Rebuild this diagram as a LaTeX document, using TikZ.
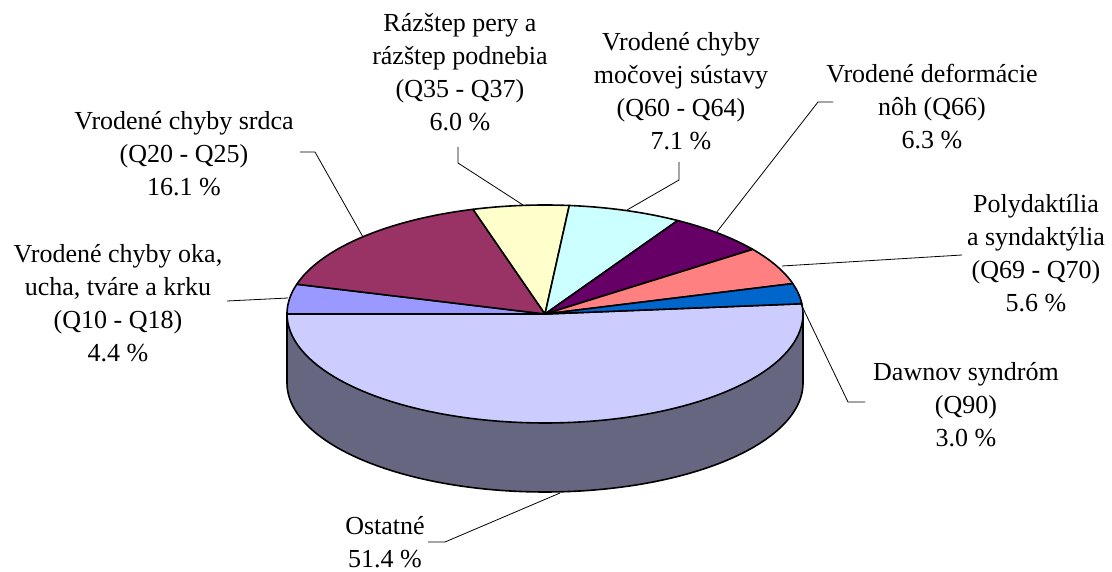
\documentclass[tikz,border=0pt]{standalone}
\usepackage{fontspec}
\setmainfont{Liberation Serif}
\definecolor{cOst}{HTML}{CCCCFF}
\definecolor{cSide}{HTML}{666680}
\definecolor{cOka}{HTML}{9999FF}
\definecolor{cSrdca}{HTML}{993366}
\definecolor{cRaz}{HTML}{FFFFCC}
\definecolor{cMoc}{HTML}{CCFFFF}
\definecolor{cDef}{HTML}{660066}
\definecolor{cPoly}{HTML}{FF8080}
\definecolor{cDaw}{HTML}{0066CC}
\def\cx{545}
\def\cy{314}
\def\rx{258}
\def\ry{109}
\def\dep{69}
\newcommand{\pieSlice}[3]{\filldraw[slice, fill=#1] (\cx,\cy) -- plot[domain=#2:#3, samples=80] ({\cx+\rx*cos(\x)},{\cy-\ry*sin(\x)}) -- cycle;}
\begin{document}
\begin{tikzpicture}[x=1pt,y=-1pt,
  lbl/.style={align=center, font=\fontsize{26}{33}\selectfont, inner sep=0pt},
  leader/.style={draw=black, line width=0.8pt},
  slice/.style={draw=black, line width=1.6pt, line join=round}]
\useasboundingbox (0,0) rectangle (1112,572);
% side wall
\filldraw[slice, fill=cSide] (\cx-\rx,\cy) -- plot[domain=180:360, samples=120] ({\cx+\rx*cos(\x)},{\cy+\dep-\ry*sin(\x)}) -- (\cx+\rx,\cy) -- cycle;
% top slices
\pieSlice{cOst}{5.4}{-180}
\pieSlice{cOka}{180}{164.16}
\pieSlice{cSrdca}{164.16}{106.2}
\pieSlice{cRaz}{106.2}{84.6}
\pieSlice{cMoc}{84.6}{59.04}
\pieSlice{cDef}{59.04}{36.36}
\pieSlice{cPoly}{36.36}{16.2}
\pieSlice{cDaw}{16.2}{5.4}
% labels
\node[lbl] (oka) at (118,303) {Vrodené chyby oka,\\ucha, tváre a krku\\(Q10 - Q18)\\4.4 \%};
\node[lbl] (srdca) at (184,154) {Vrodené chyby srdca\\(Q20 - Q25)\\16.1 \%};
\node[lbl] (raz) at (460,72) {Rázštep pery a\\rázštep podnebia\\(Q35 - Q37)\\6.0 \%};
\node[lbl] (moc) at (681,91) {Vrodené chyby\\močovej sústavy\\(Q60 - Q64)\\7.1 \%};
\node[lbl] (def) at (932,107) {Vrodené deformácie\\nôh (Q66)\\6.3 \%};
\node[lbl] (poly) at (1036,253) {Polydaktília\\a syndaktýlia\\(Q69 - Q70)\\5.6 \%};
\node[lbl] (daw) at (966,405) {Dawnov syndróm\\(Q90)\\3.0 \%};
\node[lbl] (ost) at (385,542) {Ostatné\\51.4 \%};
% leader coordinates
\coordinate (okaA) at (227,301);  \coordinate (okaP) at (288,298);
\coordinate (srdA) at (300,152);  \coordinate (srdB) at (315,152); \coordinate (srdP) at (363,237);
\coordinate (razA) at (458,147);  \coordinate (razB) at (458,163); \coordinate (razP) at (523,205);
\coordinate (mocA) at (679,162);  \coordinate (mocB) at (679,180); \coordinate (mocP) at (627,210);
\coordinate (defA) at (833,102);  \coordinate (defB) at (818,102); \coordinate (defP) at (716,233);
\coordinate (polA) at (962,255);  \coordinate (polP) at (782,266);
\coordinate (dawA) at (865,402);  \coordinate (dawB) at (848,402); \coordinate (dawP) at (800,302);
\coordinate (ostA) at (428,542);  \coordinate (ostB) at (445,542); \coordinate (ostP) at (560,493);
\draw[leader] (okaA) -- (okaP);
\draw[leader] (srdA) -- (srdB) -- (srdP);
\draw[leader] (razA) -- (razB) -- (razP);
\draw[leader] (mocA) -- (mocB) -- (mocP);
\draw[leader] (defA) -- (defB) -- (defP);
\draw[leader] (polA) -- (polP);
\draw[leader] (dawA) -- (dawB) -- (dawP);
\draw[leader] (ostA) -- (ostB) -- (ostP);
\end{tikzpicture}
\end{document}
